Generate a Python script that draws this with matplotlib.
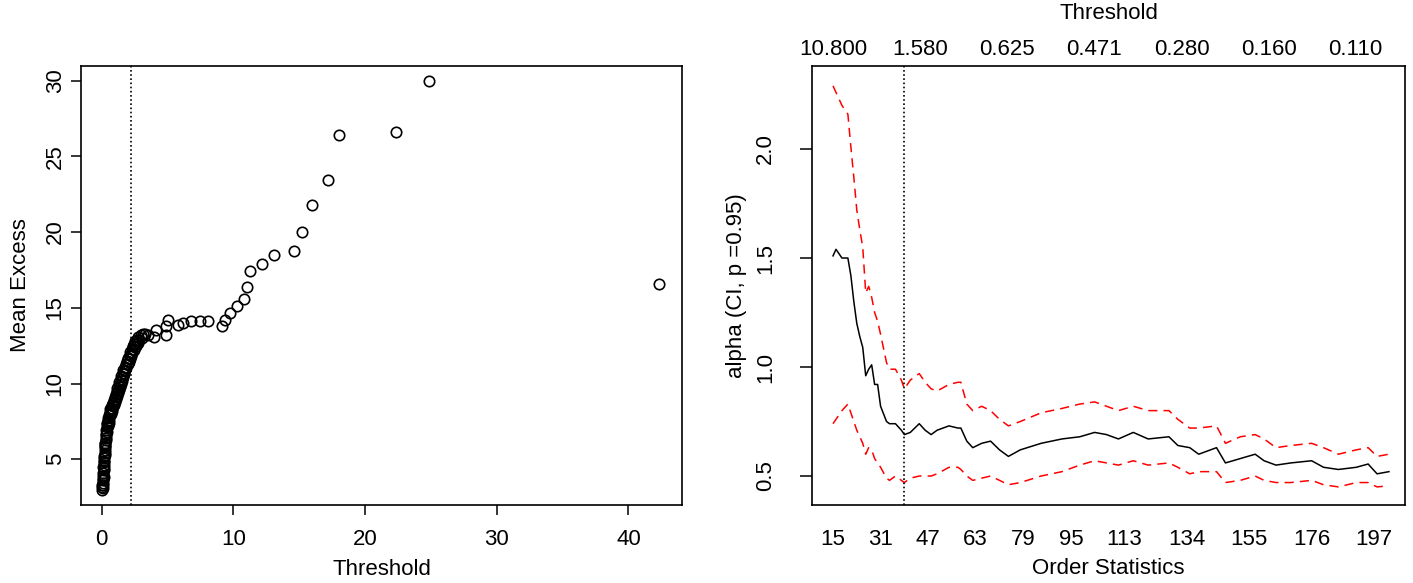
import matplotlib
matplotlib.use("Agg")
import matplotlib.pyplot as plt

plt.rcParams['font.family'] = ['Liberation Sans', 'DejaVu Sans']
plt.rcParams['font.size'] = 16

# === MEAN EXCESS PLOT (left) ===
me_x = [0.05, 0.06, 0.08, 0.09, 0.10, 0.11, 0.12, 0.13, 0.14, 0.15, 0.16, 0.17,
        0.18, 0.19, 0.21, 0.22, 0.23, 0.25, 0.26, 0.28, 0.29, 0.31, 0.33, 0.34,
        0.36, 0.38, 0.40, 0.42, 0.45, 0.48, 0.51, 0.55, 0.58, 0.62, 0.66, 0.70,
        0.74, 0.78, 0.82, 0.86, 0.90, 0.95, 1.00, 1.05, 1.10, 1.15, 1.20, 1.25,
        1.30, 1.35, 1.40, 1.45, 1.50, 1.55, 1.60, 1.65, 1.70, 1.76, 1.82, 1.88,
        1.94, 2.00, 2.06, 2.12, 2.18, 2.24, 2.30, 2.36, 2.42, 2.48, 2.55, 2.62,
        2.70, 2.78, 2.86, 2.95, 3.05, 3.15, 3.30, 3.50, 4.00, 4.15, 4.90, 4.92,
        5.04, 5.80, 6.20, 6.82, 7.45, 8.08, 9.10, 9.40, 9.75, 10.24, 10.78, 11.05,
        11.25, 12.14, 13.08, 14.60, 15.25, 15.95, 17.21, 18.02, 22.33, 24.87, 42.30,
        # second pass through the dense band (overlapping circles)
        0.03, 0.07, 0.12, 0.20, 0.27, 0.35, 0.44, 0.53, 0.64, 0.76, 0.88, 1.02,
        1.18, 1.32, 1.48, 1.62, 1.80, 1.97, 2.15, 2.33, 2.52, 2.74]
me_y = [3.0, 3.2, 3.1, 3.4, 3.6, 3.3, 3.9, 4.1, 3.8, 4.3, 4.6, 4.4,
        4.9, 5.1, 4.8, 5.4, 5.6, 5.3, 5.9, 6.1, 5.8, 6.4, 6.6, 6.3,
        6.9, 7.1, 6.8, 7.3, 7.5, 7.2, 7.7, 7.9, 7.6, 8.1, 8.3, 8.0,
        8.4, 8.6, 8.3, 8.7, 8.9, 8.6, 9.1, 9.3, 9.0, 9.5, 9.7, 9.4,
        9.9, 10.1, 9.8, 10.3, 10.5, 10.2, 10.7, 10.9, 10.6, 11.1, 11.3, 11.0,
        11.5, 11.7, 11.4, 11.9, 12.1, 11.8, 12.3, 12.5, 12.2, 12.6, 12.8, 12.5,
        12.9, 13.1, 12.9, 13.2, 13.0, 13.3, 13.3, 13.2, 13.1, 13.55, 13.2, 13.77,
        14.22, 13.85, 14.0, 14.15, 14.15, 14.12, 13.77, 14.2, 14.66, 15.1, 15.56, 16.35,
        17.42, 17.87, 18.5, 18.75, 20.0, 21.8, 23.46, 26.42, 26.6, 29.95, 16.6,
        3.3, 3.7, 4.5, 5.2, 6.0, 6.7, 7.4, 7.4, 7.9, 8.2, 8.5, 8.8,
        9.2, 9.6, 10.0, 10.4, 10.9, 11.3, 11.6, 12.0, 12.4, 12.7]
me_threshold = 2.2

# === HILL PLOT (right) ===
order_k = [15, 16, 18, 20, 21, 22, 23, 24, 25, 26, 27, 28, 29, 30, 31, 33, 34, 36,
           38, 39, 41, 44, 46, 48, 50, 54, 57, 58, 60, 62, 65, 68, 71, 74, 78, 85,
           92, 98, 103, 107, 111, 116, 121, 128, 131, 135, 138, 144, 147, 152, 157,
           160, 164, 169, 176, 180, 185, 191, 195, 198, 202]
alpha_hat = [1.51, 1.54, 1.50, 1.50, 1.42, 1.30, 1.20, 1.14, 1.09, 0.96, 0.99, 1.01,
             0.92, 0.92, 0.82, 0.75, 0.74, 0.74, 0.71, 0.69, 0.70, 0.74, 0.71, 0.69,
             0.71, 0.73, 0.72, 0.72, 0.66, 0.63, 0.65, 0.66, 0.62, 0.59, 0.62, 0.65,
             0.67, 0.68, 0.70, 0.69, 0.67, 0.70, 0.67, 0.68, 0.64, 0.63, 0.60, 0.63,
             0.56, 0.58, 0.60, 0.57, 0.55, 0.56, 0.57, 0.54, 0.53, 0.54, 0.555, 0.51, 0.52]
alpha_upper = [2.29, 2.26, 2.20, 2.16, 2.01, 1.87, 1.72, 1.63, 1.55, 1.34, 1.37, 1.32,
               1.25, 1.21, 1.15, 1.02, 0.99, 0.99, 0.94, 0.90, 0.94, 0.97, 0.93, 0.90,
               0.89, 0.92, 0.93, 0.93, 0.83, 0.80, 0.82, 0.80, 0.76, 0.73, 0.75, 0.79,
               0.81, 0.83, 0.84, 0.82, 0.80, 0.82, 0.80, 0.80, 0.76, 0.72, 0.72, 0.73,
               0.65, 0.68, 0.69, 0.67, 0.63, 0.64, 0.65, 0.63, 0.60, 0.62, 0.63, 0.59, 0.60]
alpha_lower = [0.74, 0.76, 0.80, 0.83, 0.79, 0.75, 0.71, 0.68, 0.65, 0.60, 0.63, 0.62,
               0.58, 0.56, 0.54, 0.49, 0.48, 0.50, 0.48, 0.47, 0.49, 0.50, 0.50, 0.50,
               0.51, 0.54, 0.54, 0.53, 0.50, 0.48, 0.49, 0.50, 0.48, 0.46, 0.47, 0.50,
               0.52, 0.55, 0.57, 0.56, 0.55, 0.57, 0.55, 0.56, 0.54, 0.51, 0.52, 0.52,
               0.47, 0.48, 0.50, 0.48, 0.47, 0.47, 0.48, 0.46, 0.45, 0.47, 0.47, 0.45, 0.455]
hill_k_mark = 39

bottom_ticks = [15, 31, 47, 63, 79, 95, 113, 134, 155, 176, 197]
top_tick_pos = [15, 44.3, 73.6, 102.9, 132.2, 161.5, 190.8]
top_tick_labels = ["10.800", "1.580", "0.625", "0.471", "0.280", "0.160", "0.110"]

# === FIGURE ===
W, H = 1413, 583
fig = plt.figure(figsize=(W / 100, H / 100), dpi=100)
ax1 = fig.add_axes([81 / W, (H - 505) / H, 601 / W, 439 / H])
ax2 = fig.add_axes([812 / W, (H - 505) / H, 593 / W, 439 / H])

for ax in (ax1, ax2):
    for sp in ax.spines.values():
        sp.set_linewidth(1.2)
        sp.set_color('black')

# left panel
ax1.plot(me_x, me_y, 'o', mfc='none', mec='black', ms=7.5, mew=1.2)
ax1.axvline(me_threshold, color='black', lw=1.2, linestyle=(0, (1, 1.5)))
ax1.set_xlim(-1.57, 44.07)
ax1.set_ylim(1.98, 30.97)
ax1.set_xticks([0, 10, 20, 30, 40])
ax1.set_yticks([5, 10, 15, 20, 25, 30])
ax1.tick_params(axis='x', length=7, width=1.1, pad=10)
ax1.tick_params(axis='y', length=7, width=1.1, pad=4)
for lab in ax1.get_yticklabels():
    lab.set_rotation(90)
    lab.set_va('center')
ax1.set_xlabel("Threshold", labelpad=7)
ax1.set_ylabel("Mean Excess", labelpad=10)

# right panel
ax2.plot(order_k, alpha_hat, color='black', lw=1.1)
ax2.plot(order_k, alpha_upper, color='red', lw=1.1, dashes=(6, 4))
ax2.plot(order_k, alpha_lower, color='red', lw=1.1, dashes=(6, 4))
ax2.axvline(hill_k_mark, color='black', lw=1.2, linestyle=(0, (1, 1.5)))
ax2.set_xlim(7.93, 207.4)
ax2.set_ylim(0.367, 2.381)
ax2.set_xticks(bottom_ticks)
ax2.set_yticks([0.5, 1.0, 1.5, 2.0])
ax2.tick_params(axis='x', length=0, pad=17)
ax2.tick_params(axis='y', length=9, width=1.1, pad=17)
for lab in ax2.get_yticklabels():
    lab.set_rotation(90)
    lab.set_va('center')
ax2.set_xlabel("Order Statistics", labelpad=6)
ax2.set_ylabel("alpha (CI, p =0.95)", labelpad=6)

top = ax2.secondary_xaxis('top')
top.set_xticks(top_tick_pos, labels=top_tick_labels)
top.tick_params(length=0, pad=4)
for sp in top.spines.values():
    sp.set_visible(False)
top.set_xlabel("Threshold", labelpad=15)

fig.savefig("out.png", dpi=100)
